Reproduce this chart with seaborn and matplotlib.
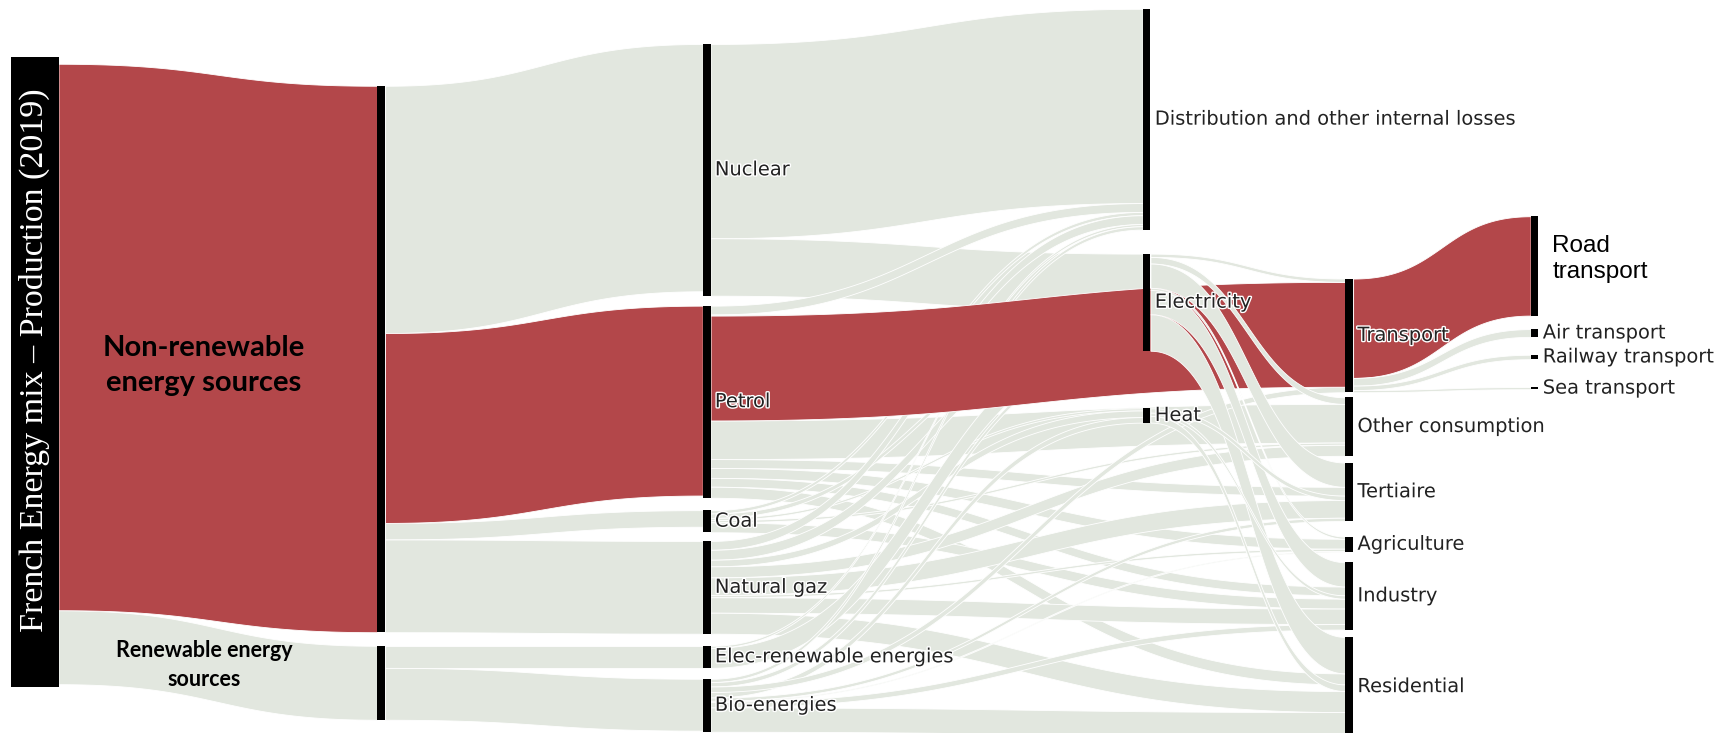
import numpy as np
import matplotlib.pyplot as plt
import matplotlib.patheffects as efectos
from matplotlib.patches import Rectangle
import seaborn as sns

# =====================================================================
# COLORES
# =====================================================================
ROJO_PETROLEO = "#b3474a"
GRIS_FLUJO = "#e2e7df"
NEGRO_NODO = "#000000"
GRIS_TEXTO = "#222222"

# =====================================================================
# DATOS (TWh aproximados)
# =====================================================================
nodos = ["mix", "no_renovable", "renovable",
         "nuclear", "petroleo", "carbon", "gas", "elec_renovable", "bio",
         "perdidas", "electricidad", "calor",
         "transporte", "otros", "terciario", "agricultura", "industria", "residencial",
         "carretera", "aereo", "ferroviario", "maritimo"]
etiquetas_nodos = ["", "Non-renewable\nenergy sources", "Renewable energy\nsources",
                   "Nuclear", "Petrol", "Coal", "Natural gaz", "Elec-renewable energies", "Bio-energies",
                   "Distribution and other internal losses", "Electricity", "Heat",
                   "Transport", "Other consumption", "Tertiaire", "Agriculture", "Industry", "Residential",
                   "Road\ntransport", "Air transport", "Railway transport", "Sea transport"]
columna_nodos = [0, 1, 1, 2, 2, 2, 2, 2, 2, 3, 3, 3, 4, 4, 4, 4, 4, 4, 5, 5, 5, 5]

origen_flujos = ["mix", "mix",
                 "no_renovable", "no_renovable", "no_renovable", "no_renovable",
                 "renovable", "renovable",
                 "nuclear", "nuclear",
                 "petroleo", "petroleo", "petroleo", "petroleo", "petroleo", "petroleo", "petroleo", "petroleo",
                 "carbon", "carbon", "carbon", "carbon", "carbon",
                 "gas", "gas", "gas", "gas", "gas", "gas", "gas", "gas",
                 "elec_renovable", "elec_renovable",
                 "bio", "bio", "bio", "bio", "bio", "bio", "bio", "bio",
                 "electricidad", "electricidad", "electricidad", "electricidad", "electricidad", "electricidad",
                 "calor", "calor", "calor",
                 "transporte", "transporte", "transporte", "transporte"]
destino_flujos = ["no_renovable", "renovable",
                  "nuclear", "petroleo", "carbon", "gas",
                  "elec_renovable", "bio",
                  "perdidas", "electricidad",
                  "perdidas", "electricidad", "transporte", "otros", "terciario", "agricultura", "industria", "residencial",
                  "perdidas", "electricidad", "calor", "otros", "industria",
                  "perdidas", "electricidad", "calor", "otros", "terciario", "agricultura", "industria", "residencial",
                  "electricidad", "perdidas",
                  "perdidas", "electricidad", "calor", "transporte", "terciario", "agricultura", "industria", "residencial",
                  "transporte", "otros", "terciario", "agricultura", "industria", "residencial",
                  "terciario", "industria", "residencial",
                  "carretera", "aereo", "ferroviario", "maritimo"]
valor_flujos = [2475, 335,
                1120, 860, 75, 420,
                100, 235,
                880, 260,
                40, 5, 475, 175, 40, 45, 40, 50,
                15, 20, 10, 10, 45,
                40, 45, 30, 50, 80, 10, 70, 95,
                90, 10,
                15, 20, 25, 25, 15, 5, 25, 110,
                15, 30, 110, 10, 110, 165,
                20, 15, 30,
                450, 35, 20, 10]

# flujos de la cadena del petroleo (en rojo)
flujos_destacados = {("mix", "no_renovable"), ("no_renovable", "petroleo"),
                     ("petroleo", "transporte"), ("transporte", "carretera")}

# =====================================================================
# DISPOSICION (fracciones de la figura, como node.x / node.y de plotly)
# =====================================================================
ALTURA_TOTAL = 3320          # TWh que caben en la altura de la figura
ANCHO_NODO = 0.0045
POSICION_COLUMNAS = [0.0315, 0.220, 0.408, 0.662, 0.779, 0.886]
POSICION_NODOS = {"mix": 0.087, "no_renovable": 0.117, "renovable": 0.881,
                  "nuclear": 0.060, "petroleo": 0.417, "carbon": 0.696, "gas": 0.738,
                  "elec_renovable": 0.881, "bio": 0.926,
                  "perdidas": 0.012, "electricidad": 0.346, "calor": 0.557,
                  "transporte": 0.380, "otros": 0.542, "terciario": 0.631, "agricultura": 0.732,
                  "industria": 0.767, "residencial": 0.869,
                  "carretera": 0.295, "aereo": 0.449, "ferroviario": 0.484, "maritimo": 0.528}


def dibujar_flujo(area_dibujo, x0, x1, y0_arriba, y0_abajo, y1_arriba, y1_abajo, color):
    # curva de Bezier cubica con puntos de control a mitad de camino
    s = np.linspace(0, 1, 120)
    x = x0 + (x1 - x0) * (1.5 * s - 1.5 * s ** 2 + s ** 3)
    f = 3 * s ** 2 - 2 * s ** 3
    arriba = y0_arriba + (y1_arriba - y0_arriba) * f
    abajo = y0_abajo + (y1_abajo - y0_abajo) * f
    area_dibujo.fill_between(x, arriba, abajo, facecolor=color, edgecolor="white", linewidth=0.6)


sns.set_theme(style="white")
plt.rcParams["font.family"] = ["DejaVu Sans"]

figura = plt.figure(figsize=(17.32, 7.33), dpi=100)
area_dibujo = figura.add_axes([0, 0, 1, 1])
area_dibujo.set_xlim(0, 1)
area_dibujo.set_ylim(ALTURA_TOTAL, 0)
area_dibujo.set_axis_off()

indice = {nombre: i for i, nombre in enumerate(nodos)}
n_nodos = len(nodos)
entrada = np.zeros(n_nodos)
salida = np.zeros(n_nodos)
for o, d, v in zip(origen_flujos, destino_flujos, valor_flujos):
    salida[indice[o]] += v
    entrada[indice[d]] += v
altura = np.maximum(entrada, salida)
tope = np.array([POSICION_NODOS[nombre] for nombre in nodos]) * ALTURA_TOTAL
centro = tope + altura / 2
x_centro = np.array([POSICION_COLUMNAS[c] for c in columna_nodos])

# apilado de los flujos en cada nodo (ordenados por la posicion del otro extremo)
n_flujos = len(valor_flujos)
y_salida = np.zeros(n_flujos)
y_entrada = np.zeros(n_flujos)
cursor = tope.copy()
for k in sorted(range(n_flujos), key=lambda k: (indice[origen_flujos[k]], centro[indice[destino_flujos[k]]])):
    i = indice[origen_flujos[k]]
    y_salida[k] = cursor[i]
    cursor[i] += valor_flujos[k]
cursor = tope.copy()
for k in sorted(range(n_flujos), key=lambda k: (indice[destino_flujos[k]], centro[indice[origen_flujos[k]]])):
    j = indice[destino_flujos[k]]
    y_entrada[k] = cursor[j]
    cursor[j] += valor_flujos[k]


def capa_flujo(k):
    # gris de las primeras columnas al fondo, luego el rojo, luego lo que sale de la columna 3
    if (origen_flujos[k], destino_flujos[k]) in flujos_destacados:
        return 1
    return 0 if columna_nodos[indice[origen_flujos[k]]] <= 2 else 2


for k in sorted(range(n_flujos), key=capa_flujo):
    i = indice[origen_flujos[k]]
    j = indice[destino_flujos[k]]
    v = valor_flujos[k]
    color = ROJO_PETROLEO if (origen_flujos[k], destino_flujos[k]) in flujos_destacados else GRIS_FLUJO
    dibujar_flujo(area_dibujo, x_centro[i] + ANCHO_NODO / 2, x_centro[j] - ANCHO_NODO / 2,
                  y_salida[k], y_salida[k] + v, y_entrada[k], y_entrada[k] + v, color)

# barras de los nodos
for i, nombre in enumerate(nodos):
    if nombre == "mix":
        continue
    area_dibujo.add_patch(Rectangle((x_centro[i] - ANCHO_NODO / 2, tope[i]), ANCHO_NODO, altura[i],
                                    facecolor=NEGRO_NODO, edgecolor="none", zorder=3))

# etiquetas
halo = [efectos.withStroke(linewidth=2, foreground="white")]
for i, nombre in enumerate(nodos):
    if columna_nodos[i] < 2 or nombre == "carretera":
        continue
    area_dibujo.text(x_centro[i] + ANCHO_NODO / 2 + 0.0025, centro[i], etiquetas_nodos[i],
                     ha="left", va="center", fontsize=14, color=GRIS_TEXTO, path_effects=halo, zorder=4)

i = indice["carretera"]
area_dibujo.text(x_centro[i] + ANCHO_NODO / 2 + 0.008, centro[i] - 30, etiquetas_nodos[i],
                 ha="left", va="center", fontsize=17.5, color="black", family=["Liberation Sans"],
                 linespacing=1.25, zorder=4)

# etiquetas de la primera columna, sobre el propio flujo
for nombre, tamano, desplazamiento in [("no_renovable", 21, 80), ("renovable", 15.5, 0)]:
    k = destino_flujos.index(nombre)
    i = indice["mix"]
    j = indice[nombre]
    x_medio = (x_centro[i] + x_centro[j]) / 2 - 0.008
    y_medio = (y_salida[k] + y_entrada[k] + valor_flujos[k]) / 2 + desplazamiento
    area_dibujo.text(x_medio, y_medio, etiquetas_nodos[j], ha="center", va="center",
                     fontsize=tamano, fontweight="bold", color="black", family=["Lato"],
                     linespacing=1.45, zorder=4)

# recuadro negro con el titulo vertical
figura.add_artist(Rectangle((10 / 1568, 1 - 622 / 664), 43 / 1568, 570 / 664,
                            transform=figura.transFigure, facecolor="black", edgecolor="none", zorder=5))
figura.text(31.5 / 1568, 1 - 326 / 664, "French Energy mix \u2013 Production (2019)", rotation=90,
            ha="center", va="center", color="white", fontsize=24.5, family=["Liberation Serif"], zorder=6)

figura.savefig("out.png", dpi=100, facecolor="white")
plt.close(figura)
